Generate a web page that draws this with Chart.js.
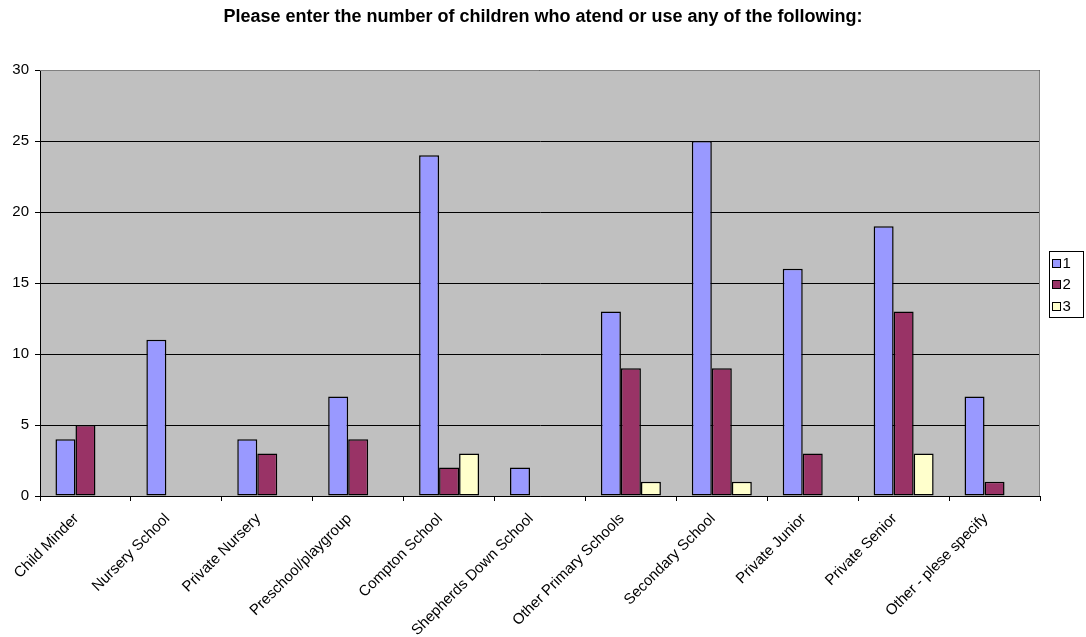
<!DOCTYPE html>
<html>
<head>
<meta charset="utf-8">
<script src="https://cdn.jsdelivr.net/npm/chart.js@4.4.1/dist/chart.umd.min.js"></script>
<style>
html,body{margin:0;padding:0;background:#fff;}
#wrap{width:1086px;height:637px;position:relative;}
</style>
</head>
<body>
<div id="wrap"><canvas id="c" width="1086" height="637"></canvas></div>
<script>
const titleText = "Please enter the number of children who atend or use any of the following:";
const categories = ["Child Minder","Nursery School","Private Nursery","Preschool/playgroup","Compton School","Shepherds Down School","Other Primary Schools","Secondary School","Private Junior","Private Senior","Other - plese specify"];
const seriesNames = ["1","2","3"];
const series1 = [4, 11, 4, 7, 24, 2, 13, 25, 16, 19, 7];
const series2 = [5, null, 3, 4, 2, null, 9, 9, 3, 13, 1];
const series3 = [null, null, null, null, 3, null, 1, 1, null, 3, null];
const seriesColors = ["#9999FF","#993366","#FFFFCC"];
const yMin = 0, yMax = 30, yStep = 5;

const FONT = "'Liberation Sans', Arial, sans-serif";

const plotBg = {
  id: 'plotBg',
  beforeDraw(chart) {
    const {ctx, chartArea: a} = chart;
    ctx.save();
    ctx.fillStyle = '#C0C0C0';
    ctx.fillRect(a.left, a.top, a.right - a.left, a.bottom - a.top);
    ctx.restore();
  },
  afterDatasetsDraw(chart) {
    const {ctx, chartArea: a} = chart;
    ctx.save();
    ctx.strokeStyle = '#808080';
    ctx.lineWidth = 1;
    ctx.beginPath();
    ctx.moveTo(a.left, a.top + 0.5);
    ctx.lineTo(a.right - 0.5, a.top + 0.5);
    ctx.lineTo(a.right - 0.5, a.bottom);
    ctx.stroke();
    ctx.restore();
  }
};

const customLegend = {
  id: 'customLegend',
  afterDraw(chart) {
    const {ctx} = chart;
    const x = 1049.5, y = 251.5, w = 34, h = 66;
    ctx.save();
    ctx.fillStyle = '#fff';
    ctx.fillRect(x, y, w, h);
    ctx.strokeStyle = '#000';
    ctx.lineWidth = 1;
    ctx.strokeRect(x, y, w, h);
    ctx.font = '15px ' + FONT;
    ctx.textBaseline = 'middle';
    ctx.textAlign = 'left';
    chart.data.datasets.forEach((ds, i) => {
      const cy = 262.5 + i * 21.5;
      const sy = Math.round(cy - 4) + 0.5;
      ctx.fillStyle = ds.backgroundColor;
      ctx.fillRect(x + 3, sy, 8, 8);
      ctx.strokeStyle = '#000';
      ctx.strokeRect(x + 3, sy, 8, 8);
      ctx.fillStyle = '#000';
      ctx.fillText(ds.label, x + 13, cy + 1);
    });
    ctx.restore();
  }
};

new Chart(document.getElementById('c'), {
  type: 'bar',
  data: {
    labels: categories,
    datasets: [series1, series2, series3].map((d, i) => ({
      label: seriesNames[i],
      data: d,
      backgroundColor: seriesColors[i],
      borderColor: '#000',
      borderWidth: 1.5,
      borderSkipped: false,
      categoryPercentage: 0.66,
      barPercentage: 1.0
    }))
  },
  options: {
    responsive: false,
    animation: false,
    devicePixelRatio: 1,
    layout: { padding: { left: 0, right: 0, top: 0, bottom: 0 } },
    plugins: {
      legend: { display: false },
      tooltip: { enabled: false },
      title: {
        display: true,
        text: titleText,
        color: '#000',
        font: { family: FONT, size: 18, weight: 'bold', lineHeight: 1.2 },
        padding: { top: 6, bottom: 42.4 }
      }
    },
    scales: {
      x: {
        grid: { display: true, drawOnChartArea: false, drawTicks: true, tickLength: 5, color: '#000', offset: true },
        border: { display: true, color: '#000', width: 1 },
        ticks: {
          color: '#000',
          font: { family: FONT, size: 15 },
          minRotation: 45, maxRotation: 45, autoSkip: false, padding: 9, labelOffset: -9
        },
        afterFit(s) { s.height = 141; }
      },
      y: {
        min: yMin, max: yMax,
        grid: { color: '#000', lineWidth: 1, tickLength: 5, drawTicks: true },
        border: { display: true, color: '#000', width: 1 },
        ticks: { stepSize: yStep, color: '#000', font: { family: FONT, size: 15 }, padding: 6 },
        afterFit(s) { s.width = 40; }
      },
      legendSpace: {
        type: 'linear',
        position: 'right',
        display: true,
        grid: { display: false, drawTicks: false },
        border: { display: false },
        ticks: { display: false },
        afterFit(s) { s.width = 46; }
      }
    }
  },
  plugins: [plotBg, customLegend]
});
</script>
</body>
</html>
